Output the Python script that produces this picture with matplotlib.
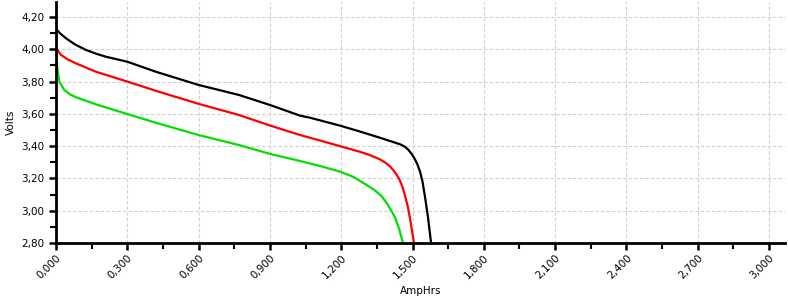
import matplotlib
matplotlib.use("Agg")
import matplotlib.pyplot as plt
from matplotlib.ticker import MultipleLocator, FuncFormatter

# Black curve
black_x = [0.0, 0.02, 0.042, 0.08, 0.126, 0.17, 0.21, 0.3, 0.42, 0.6, 0.77, 0.9, 1.027, 1.069, 1.195, 1.28,
           1.363, 1.405, 1.43, 1.45, 1.467, 1.482, 1.496, 1.509, 1.521, 1.532, 1.542, 1.552, 1.565, 1.578]
black_y = [4.125, 4.095, 4.068, 4.03, 3.996, 3.972, 3.954, 3.923, 3.861, 3.779, 3.717, 3.655, 3.589, 3.576, 3.527, 3.49,
           3.452, 3.432, 3.42, 3.41, 3.397, 3.378, 3.352, 3.322, 3.285, 3.24, 3.18, 3.09, 2.96, 2.80]

# Red curve
red_x = [0.0, 0.004, 0.021, 0.05, 0.084, 0.168, 0.3, 0.42, 0.6, 0.77, 0.9, 1.027, 1.069, 1.195, 1.279, 1.32,
         1.363, 1.385, 1.405, 1.42, 1.434, 1.446, 1.457, 1.467, 1.481, 1.493, 1.506]
red_y = [4.03, 4.0, 3.965, 3.937, 3.913, 3.861, 3.80, 3.743, 3.662, 3.593, 3.528, 3.469, 3.452, 3.40, 3.365, 3.345,
         3.318, 3.298, 3.275, 3.25, 3.222, 3.19, 3.15, 3.10, 3.02, 2.92, 2.80]

# Green curve
green_x = [0.0, 0.002, 0.005, 0.014, 0.035, 0.06, 0.084, 0.168, 0.3, 0.42, 0.6, 0.77, 0.9, 1.027, 1.111, 1.195,
           1.251, 1.307, 1.34, 1.37, 1.397, 1.426, 1.443, 1.46]
green_y = [4.15, 4.0, 3.89, 3.80, 3.748, 3.72, 3.703, 3.659, 3.599, 3.545, 3.469, 3.407, 3.352, 3.308, 3.277, 3.242,
           3.21, 3.159, 3.128, 3.09, 3.035, 2.96, 2.89, 2.80]

fig = plt.figure(figsize=(7.88, 2.99), dpi=100)
ax = fig.add_axes([56/788, 1-243/299, (785-56)/788, (243-2)/299])

for xs, ys, c in [(black_x, black_y, "black"), (red_x, red_y, "#ff0000"), (green_x, green_y, "#00e000")]:
    ax.plot(xs, ys, color=c, lw=1.6, solid_joinstyle="round", solid_capstyle="butt")

ax.set_xlim(0, 3.067)
ax.set_ylim(2.80, 4.293)

ax.xaxis.set_major_locator(MultipleLocator(0.3))
ax.xaxis.set_minor_locator(MultipleLocator(0.15))
ax.yaxis.set_major_locator(MultipleLocator(0.2))
ax.yaxis.set_minor_locator(MultipleLocator(0.1))
ax.xaxis.set_major_formatter(FuncFormatter(lambda v, p: f"{v:.3f}".replace(".", ",")))
ax.yaxis.set_major_formatter(FuncFormatter(lambda v, p: f"{v:.2f}".replace(".", ",")))

for s in ["top", "right"]:
    ax.spines[s].set_visible(False)
for s in ["left", "bottom"]:
    ax.spines[s].set_linewidth(2)
    ax.spines[s].set_color("black")

ax.tick_params(axis="both", which="major", length=5, width=1.8, labelsize=7.5, colors="black")
ax.tick_params(axis="both", which="minor", length=4, width=1.5)
ax.tick_params(axis="x", which="major", pad=2)
for lbl in ax.get_xticklabels():
    lbl.set_rotation(45)
    lbl.set_ha("right")
    lbl.set_rotation_mode("anchor")

ax.grid(True, which="major", color="#d0d0d0", linestyle=(0, (3, 2)), lw=0.8)
ax.set_axisbelow(True)

ax.set_xlabel("AmpHrs", fontsize=7.5, labelpad=4)
ax.set_ylabel("Volts", fontsize=7.5, labelpad=4)

fig.savefig("out.png", dpi=100)
